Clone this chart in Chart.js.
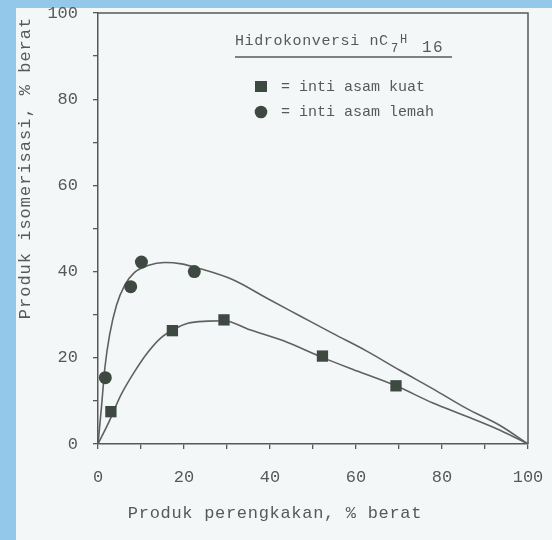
<!DOCTYPE html>
<html><head><meta charset="utf-8">
<script src="https://cdn.jsdelivr.net/npm/chart.js@4.4.1/dist/chart.umd.min.js"></script>
<style>html,body{margin:0;padding:0;background:#f3f7f8;overflow:hidden}</style>
</head><body>
<canvas id="c" width="552" height="540"></canvas>
<script>
// ---- data ----
const axisTicks = [0, 20, 40, 60, 80, 100];
const weakX = [1.7, 7.6, 10.1, 22.4];           // inti asam lemah (circles)
const weakY = [15.4, 36.5, 42.2, 40.0];
const strongX = [3.0, 17.3, 29.3, 52.2, 69.3];   // inti asam kuat (squares)
const strongY = [7.5, 26.3, 28.8, 20.4, 13.5];
const weakCurveX = [0, 0.8, 1.6, 2.7, 4.3, 6.2, 8.5, 11.6, 15.5, 19.4, 23.3, 31.4, 39.3, 47.0, 54.7, 62.6, 70.2, 77.9, 85.8, 93.5, 100];
const weakCurveY = [0, 8.5, 17.7, 25.3, 32.2, 36.8, 39.8, 41.4, 42.1, 41.8, 40.8, 38.1, 33.8, 29.7, 25.6, 21.5, 17.1, 12.8, 8.2, 4.3, 0];
const strongCurveX = [0, 2.3, 5.4, 8.5, 11.6, 14.7, 17.8, 20.9, 25.6, 29.3, 35.3, 43.0, 52.1, 60.9, 69.3, 77.9, 85.8, 93.5, 100];
const strongCurveY = [0, 4.6, 11.5, 16.8, 21.3, 24.7, 26.7, 28.0, 28.5, 28.6, 26.5, 24.0, 20.1, 16.7, 13.5, 9.5, 6.4, 3.2, 0];
const xTitle = 'Produk perengkakan, % berat';
const yTitle = 'Produk isomerisasi, % berat';
const legendLabels = ['= inti asam kuat', '= inti asam lemah'];

const pts = (xs, ys) => xs.map((x, i) => ({x, y: ys[i]}));
const INK = '#585858';
const MARK = '#3e4a41';
const MONO = '"Liberation Mono", "DejaVu Sans Mono", monospace';

function spaced(ctx, px) { try { ctx.letterSpacing = px + 'px'; } catch (e) {} }

const decor = {
  id: 'decor',
  beforeDraw(chart) {
    const ctx = chart.ctx;
    ctx.save();
    ctx.fillStyle = '#93c8ea';
    ctx.fillRect(0, 0, chart.width, chart.height);
    ctx.fillStyle = '#f3f7f8';
    ctx.fillRect(16, 8, chart.width - 16, chart.height - 8);
    ctx.restore();
  },
  afterDraw(chart) {
    const ctx = chart.ctx, a = chart.chartArea;
    ctx.save();
    // frame top & right
    ctx.strokeStyle = INK; ctx.lineWidth = 1.5;
    ctx.beginPath();
    ctx.moveTo(a.left, a.top); ctx.lineTo(a.right, a.top); ctx.lineTo(a.right, a.bottom);
    ctx.stroke();
    ctx.fillStyle = INK;
    // axis titles
    ctx.font = '17px ' + MONO;
    ctx.textAlign = 'center'; ctx.textBaseline = 'middle';
    spaced(ctx, 0.7);
    ctx.fillText(xTitle, 275, 513);
    ctx.save();
    spaced(ctx, 1);
    ctx.translate(25, 168); ctx.rotate(-Math.PI / 2);
    ctx.fillText(yTitle, 0, 0);
    ctx.restore();
    // legend title with subscripts
    ctx.textAlign = 'left'; ctx.textBaseline = 'alphabetic';
    ctx.font = '15px ' + MONO; spaced(ctx, 0.6);
    ctx.fillText('Hidrokonversi nC', 235, 45);
    spaced(ctx, 0);
    ctx.font = '12px ' + MONO;
    ctx.fillText('7', 391, 52);
    ctx.fillText('H', 400, 43);
    ctx.font = '16px ' + MONO; spaced(ctx, 1.5);
    ctx.fillText('16', 422, 52);
    spaced(ctx, 0);
    ctx.strokeStyle = INK; ctx.lineWidth = 1.3;
    ctx.beginPath(); ctx.moveTo(235, 57); ctx.lineTo(452, 57); ctx.stroke();
    // legend entries
    ctx.fillStyle = MARK;
    ctx.fillRect(255, 81, 12, 11);
    ctx.beginPath(); ctx.arc(261, 112, 6.3, 0, Math.PI * 2); ctx.fill();
    ctx.fillStyle = INK;
    ctx.font = '15px ' + MONO;
    ctx.textBaseline = 'middle';
    ctx.fillText(legendLabels[0], 281, 87);
    ctx.fillText(legendLabels[1], 281, 112);
    ctx.restore();
  }
};

const tickCb = v => (axisTicks.includes(v) ? String(v) : '');
const axisCommon = {
  type: 'linear', min: 0, max: 100,
  grid: { drawOnChartArea: false, drawTicks: true, tickLength: 5, color: INK, lineWidth: 1.3 },
  border: { display: true, color: INK, width: 1.5 },
  ticks: { stepSize: 10, autoSkip: false, color: INK, font: { family: MONO, size: 17 }, callback: tickCb }
};

new Chart(document.getElementById('c'), {
  type: 'scatter',
  data: {
    datasets: [
      { data: pts(strongX, strongY), pointStyle: 'rect', pointRadius: 8, backgroundColor: MARK, borderColor: MARK, borderWidth: 0, order: 0 },
      { data: pts(weakX, weakY), pointStyle: 'circle', pointRadius: 6.5, backgroundColor: MARK, borderColor: MARK, borderWidth: 0, order: 0 },
      { data: pts(weakCurveX, weakCurveY), showLine: true, pointRadius: 0, borderColor: '#606060', borderWidth: 1.6, cubicInterpolationMode: 'monotone', order: 1 },
      { data: pts(strongCurveX, strongCurveY), showLine: true, pointRadius: 0, borderColor: '#606060', borderWidth: 1.6, cubicInterpolationMode: 'monotone', order: 1 }
    ]
  },
  options: {
    responsive: false, animation: false, devicePixelRatio: 1,
    layout: { autoPadding: false, padding: { top: 13, right: 24, left: 0, bottom: 0 } },
    plugins: { legend: { display: false }, tooltip: { enabled: false } },
    scales: {
      x: Object.assign({}, axisCommon, {
        position: 'bottom',
        ticks: Object.assign({}, axisCommon.ticks, { padding: 18, maxRotation: 0 }),
        afterFit: s => { s.height = 96; s.paddingLeft = 0; s.paddingRight = 0; }
      }),
      y: Object.assign({}, axisCommon, {
        position: 'left',
        ticks: Object.assign({}, axisCommon.ticks, { padding: 15 }),
        afterFit: s => { s.width = 98; s.paddingTop = 0; s.paddingBottom = 0; }
      })
    }
  },
  plugins: [decor]
});
</script>
</body></html>
